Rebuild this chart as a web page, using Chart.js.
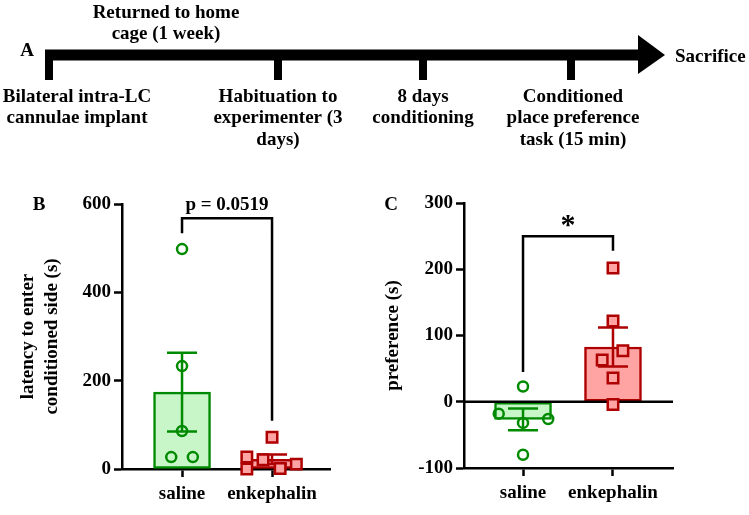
<!DOCTYPE html>
<html>
<head>
<meta charset="utf-8">
<script src="https://cdn.jsdelivr.net/npm/chart.js@4.4.1/dist/chart.umd.min.js"></script>
<style>
    body { margin: 0; background: #fff; }
    #wrap { position: relative; width: 749px; height: 515px; overflow: hidden; }
    canvas { position: absolute; }
</style>
</head>
<body>
<div id="wrap">
    <canvas id="timeline" width="749" height="180" style="left:0;top:0"></canvas>
    <canvas id="panelB" width="345" height="335" style="left:0;top:180px"></canvas>
    <canvas id="panelC" width="404" height="335" style="left:345px;top:180px"></canvas>
</div>
<script>
// ---- data ----
const groups = ['saline', 'enkephalin'];

const latencySaline = [498, 233, 86, 27, 27];
const latencyEnkephalin = [72, 27, 0, 21, 1, 11];
const latencyTicks = [0, 200, 400, 600];

const preferenceSaline = [23, -18, -32, -26, -80];
const preferenceEnkephalin = [202, 122, 77, 63, 36, -4];
const preferenceTicks = [-100, 0, 100, 200, 300];

const timelineSteps = [
    ['Bilateral intra-LC', 'cannulae implant'],
    ['Habituation to', 'experimenter (3', 'days)'],
    ['8 days', 'conditioning'],
    ['Conditioned', 'place preference', 'task (15 min)']
];
const timelineAbove = ['Returned to home', 'cage (1 week)'];
const timelineEnd = 'Sacrifice';

// ---- layout (not data) ----
// schematic position of each step on the timeline, and where its label is centred
const stepPos = [49, 278, 423, 571];
const stepLabelPos = [77, 278, 423, 573];
const arrowTip = 665;

// horizontal spread of dots within a column (category units)
const spreadLatSal = [0, 0, 0, -0.12, 0.12];
const spreadLatEnk = [0, -0.28, -0.28, -0.1, 0.09, 0.27];
const spreadPrefSal = [0, -0.27, 0, 0.28, 0];
const spreadPrefEnk = [0, 0, 0.11, -0.12, 0, 0];

const FONT = "'Liberation Serif', 'Times New Roman', serif";
const GREEN = '#008a00';
const GREEN_FILL = '#c8f6c8';
const RED = '#ae0000';
const RED_FILL = '#ffa3a3';

function mean(a) {
    return a.reduce((s, v) => s + v, 0) / a.length;
}

function sem(a) {
    const m = mean(a);
    const v = a.reduce((s, x) => s + (x - m) * (x - m), 0) / (a.length - 1);
    return Math.sqrt(v / a.length);
}

// ---------------- timeline (panel A) ----------------
const timelinePlugin = {
    id: 'timelineMarks',
    afterDatasetsDraw(chart) {
        const { ctx, scales: { x, y } } = chart;
        const y0 = y.getPixelForValue(0);
        ctx.save();
        ctx.fillStyle = '#000';
        stepPos.forEach((p) => {
            const px = x.getPixelForValue(p);
            ctx.fillRect(px - 4, y0 - 5, 8, 30);
        });
        const tip = x.getPixelForValue(arrowTip);
        ctx.beginPath();
        ctx.moveTo(tip - 27, y0 - 20);
        ctx.lineTo(tip, y0);
        ctx.lineTo(tip - 27, y0 + 19);
        ctx.closePath();
        ctx.fill();

        ctx.font = 'bold 19px ' + FONT;
        ctx.textAlign = 'center';
        ctx.textBaseline = 'middle';
        timelineSteps.forEach((lines, i) => {
            const px = x.getPixelForValue(stepLabelPos[i]);
            lines.forEach((t, j) => ctx.fillText(t, px, y0 + 42 + j * 21.5));
        });
        timelineAbove.forEach((t, j) => ctx.fillText(t, x.getPixelForValue(166), 13 + j * 21));
        ctx.fillText('A', 27, y0 - 4);
        ctx.textAlign = 'left';
        ctx.fillText(timelineEnd, tip + 10, y0 + 2);
        ctx.restore();
    }
};

new Chart(document.getElementById('timeline'), {
    type: 'line',
    data: {
        datasets: [{
            data: [{ x: stepPos[0] - 4, y: 0 }, { x: arrowTip - 26, y: 0 }],
            borderColor: '#000',
            borderWidth: 11,
            borderCapStyle: 'butt',
            pointRadius: 0
        }]
    },
    options: {
        responsive: false,
        animation: false,
        events: [],
        layout: { padding: 0 },
        scales: {
            x: { type: 'linear', display: false, min: 0, max: 749 },
            y: { type: 'linear', display: false, min: -125, max: 55 }
        },
        plugins: { legend: { display: false }, tooltip: { enabled: false } }
    },
    plugins: [timelinePlugin]
});

// ---------------- bar + dot panels (B, C) ----------------
function makePanel(id, cfg) {
    const sets = [cfg.saline, cfg.enkephalin];
    const means = sets.map(mean);
    const errs = sets.map(sem);
    const lineColors = [GREEN, RED];

    const panelPlugin = {
        id: 'panelExtras' + id,
        afterDatasetDraw(chart, args) {
            if (args.index !== 0) return;
            const { ctx, chartArea, scales: { x, y } } = chart;
            ctx.save();
            if (y.min < 0) {
                const yz = y.getPixelForValue(0);
                ctx.strokeStyle = '#000';
                ctx.lineWidth = 2.5;
                ctx.beginPath();
                ctx.moveTo(chartArea.left, yz);
                ctx.lineTo(chartArea.right, yz);
                ctx.stroke();
            }
            means.forEach((m, i) => {
                const px = x.getPixelForValue(i);
                const hi = y.getPixelForValue(m + errs[i]);
                const lo = y.getPixelForValue(m - errs[i]);
                ctx.strokeStyle = lineColors[i];
                ctx.lineWidth = 2.5;
                ctx.beginPath();
                ctx.moveTo(px, hi); ctx.lineTo(px, lo);
                ctx.moveTo(px - 15, hi); ctx.lineTo(px + 15, hi);
                ctx.moveTo(px - 15, lo); ctx.lineTo(px + 15, lo);
                ctx.stroke();
            });
            ctx.restore();
        },
        afterDraw(chart) {
            const { ctx, scales: { x, y } } = chart;
            const b = cfg.bracket;
            const x0 = x.getPixelForValue(0), x1 = x.getPixelForValue(1);
            ctx.save();
            ctx.strokeStyle = '#000';
            ctx.lineWidth = 2.5;
            ctx.beginPath();
            ctx.moveTo(x0, y.getPixelForValue(b.left));
            ctx.lineTo(x0, y.getPixelForValue(b.top));
            ctx.lineTo(x1, y.getPixelForValue(b.top));
            ctx.lineTo(x1, y.getPixelForValue(b.right));
            ctx.stroke();
            ctx.fillStyle = '#000';
            ctx.textAlign = 'center';
            ctx.font = b.font;
            ctx.textBaseline = b.baseline;
            ctx.fillText(b.text, (x0 + x1) / 2, y.getPixelForValue(b.top) + b.dy);
            ctx.font = 'bold 19px ' + FONT;
            ctx.textBaseline = 'middle';
            ctx.fillText(id, cfg.letterX, 25);
            ctx.restore();
        }
    };

    const dots = (vals, spread) => vals.map((v, i) => ({ x: i < spread.length ? spread[i] : 0, y: v }));

    return new Chart(document.getElementById('panel' + id), {
        type: 'bar',
        data: {
            datasets: [{
                type: 'bar',
                data: means.map((m, i) => ({ x: i, y: m })),
                backgroundColor: [GREEN_FILL, RED_FILL],
                borderColor: lineColors,
                borderWidth: 2.5,
                borderSkipped: false,
                barThickness: 57,
                order: 3
            }, {
                type: 'scatter',
                data: dots(cfg.saline, cfg.spreadSal),
                pointStyle: 'circle',
                pointRadius: 5,
                borderWidth: 2.5,
                borderColor: GREEN,
                backgroundColor: 'rgba(0,0,0,0)',
                clip: false,
                order: 1
            }, {
                type: 'scatter',
                data: dots(cfg.enkephalin, cfg.spreadEnk).map((p) => ({ x: p.x + 1, y: p.y })),
                pointStyle: 'rect',
                pointRadius: 7.4,
                borderWidth: 2.5,
                borderColor: RED,
                backgroundColor: RED_FILL,
                clip: false,
                order: 0
            }]
        },
        options: {
            responsive: false,
            animation: false,
            events: [],
            layout: { padding: cfg.padding },
            scales: {
                x: {
                    type: 'linear',
                    offset: false,
                    min: cfg.xMin,
                    max: cfg.xMax,
                    afterBuildTicks: (s) => { s.ticks = groups.map((g, i) => ({ value: i })); },
                    afterFit: (s) => { s.height = cfg.xHeight; },
                    ticks: {
                        callback: (v) => groups[v],
                        color: '#000',
                        font: { family: FONT, size: 19, weight: 'bold' },
                        padding: 6,
                        maxRotation: 0,
                        autoSkip: false
                    },
                    grid: { offset: false, drawOnChartArea: false, tickLength: 8, tickWidth: 2.5, tickColor: '#000' },
                    border: { color: '#000', width: 2.5 }
                },
                y: {
                    min: cfg.ticks[0],
                    max: cfg.ticks[cfg.ticks.length - 1],
                    afterBuildTicks: (s) => { s.ticks = cfg.ticks.map((v) => ({ value: v })); },
                    afterFit: (s) => { s.width = cfg.yWidth; },
                    ticks: {
                        color: '#000',
                        font: { family: FONT, size: 19, weight: 'bold' },
                        padding: 3
                    },
                    grid: { drawOnChartArea: false, tickLength: 8, tickWidth: 2.5, tickColor: '#000' },
                    border: { color: '#000', width: 2.5 },
                    title: {
                        display: true,
                        text: cfg.yTitle,
                        color: '#000',
                        font: { family: FONT, size: 19, weight: 'bold', lineHeight: 1.3 },
                        padding: { top: cfg.titlePad, bottom: 0 }
                    }
                }
            },
            plugins: { legend: { display: false }, tooltip: { enabled: false } }
        },
        plugins: [panelPlugin]
    });
}

makePanel('B', {
    saline: latencySaline,
    enkephalin: latencyEnkephalin,
    spreadSal: spreadLatSal,
    spreadEnk: spreadLatEnk,
    ticks: latencyTicks,
    yTitle: ['latency to enter', 'conditioned side (s)'],
    bracket: { left: 534, top: 568, right: 109, text: 'p = 0.0519', font: 'bold 19px ' + FONT, baseline: 'middle', dy: -13 },
    padding: { top: 24, right: 15, left: 0, bottom: 0 },
    xMin: -0.667, xMax: 1.644,
    xHeight: 46, yWidth: 122, titlePad: 15.5, letterX: 39
});

makePanel('C', {
    saline: preferenceSaline,
    enkephalin: preferenceEnkephalin,
    spreadSal: spreadPrefSal,
    spreadEnk: spreadPrefEnk,
    ticks: preferenceTicks,
    yTitle: 'preference (s)',
    bracket: { left: 45, top: 250, right: 228, text: '*', font: 'bold 30px ' + FONT, baseline: 'alphabetic', dy: -2 },
    padding: { top: 23, right: 76, left: 0, bottom: 0 },
    xMin: -0.656, xMax: 1.667,
    xHeight: 47, yWidth: 119, titlePad: 35.5, letterX: 46
});
</script>
</body>
</html>
